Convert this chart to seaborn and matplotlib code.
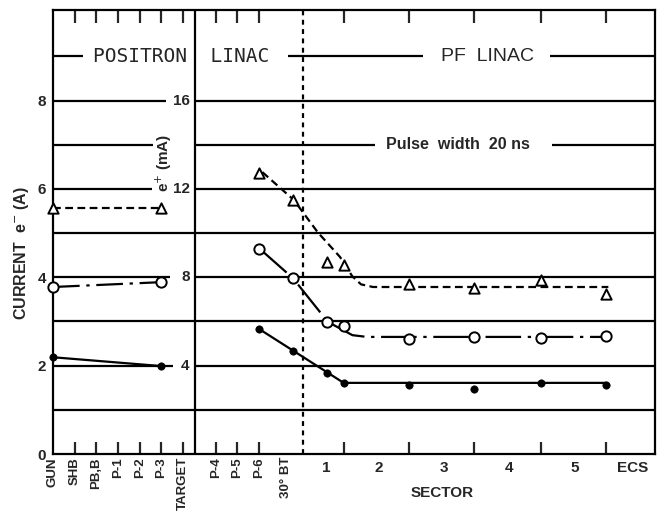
'''
Beam current along the linac: positron linac (left) and PF linac (right).
Values read off a scanned figure.
'''

import numpy as np
import pandas as pd
import seaborn as sns
import matplotlib.pyplot as plt
from matplotlib.transforms import blended_transform_factory

# positions along the beam line (one unit = one left-hand slot)
left_ticks = [0, 1, 2, 3, 4, 5, 6]
left_labels = ['GUN', 'SHB', 'PB,B', 'P-1', 'P-2', 'P-3', 'TARGET']
right_ticks = [7.5, 8.5, 9.5]
right_labels = ['P-4', 'P-5', 'P-6']
bt_pos = 10.75
divider_x = 6.54
bt_line_x = 11.52
sector_ends = [13.4, 16.4, 19.4, 22.5, 25.5]
sector_label_pos = [12.6, 15.0, 18.0, 21.0, 24.05, 26.7]
sector_labels = ['1', '2', '3', '4', '5', 'ECS']
x_end = 27.75

# e+ scale labels (twice the e- scale)
ep_ticks = [8, 6, 4, 2]
ep_labels = ['16', '12', '8', '4']

# measured points, positron linac
x_left = [0, 5]
tri_left = [5.57, 5.57]
circ_left = [3.78, 3.89]
dot_left = [2.19, 1.99]

# measured points, PF linac
x_right = [9.5, 11.05, 12.65, 13.4, 16.4, 19.4, 22.5, 25.5]
tri_right = [6.36, 5.75, 4.34, 4.28, 3.85, 3.76, 3.94, 3.62]
circ_right = [4.64, 3.98, 2.99, 2.90, 2.60, 2.65, 2.62, 2.67]
dot_right = [2.83, 2.33, 1.83, 1.61, 1.56, 1.47, 1.61, 1.56]

# hand drawn guide curves, PF linac
tri_fit_x = [9.65, 11.1, 12.2, 13.23, 13.8, 14.2, 14.75, 25.6]
tri_fit_y = [6.38, 5.75, 5.02, 4.46, 4.02, 3.84, 3.78, 3.78]
circ_fit_x = [9.54, 11.06, 12.67, 13.2, 13.8, 14.47, 25.5]
circ_fit_y = [4.64, 3.98, 2.99, 2.85, 2.69, 2.65, 2.65]
dot_fit_x = [9.5, 13.4, 25.5]
dot_fit_y = [2.83, 1.61, 1.61]

# grid segments (y, [(x0, x1), ...]), broken where text sits
grid_segments = {
    9: [(0, 1.38), (10.83, 17.05), (22.9, x_end)],
    8: [(0, 5.2), (divider_x, x_end)],
    7: [(0, 4.6), (divider_x, 14.84), (23.0, x_end)],
    6: [(0, 4.56), (divider_x, x_end)],
    5: [(0, x_end)],
    4: [(0, 5.39), (divider_x, x_end)],
    3: [(0, x_end)],
    2: [(0, 5.53), (divider_x, x_end)],
    1: [(0, x_end)],
}

## plot setup
sns.set_theme(style='white')
plt.rcParams['font.family'] = ['Liberation Sans', 'DejaVu Sans']
text_dct = {'label': 11.5, 'tick': 11, 'xtick': 9.5, 'title': 14}
lw = 1.6

fig = plt.figure(figsize=(6.59, 5.12), dpi=100)
ax = fig.add_axes([53 / 659, 1 - 454 / 512, 602 / 659, 444 / 512])
ax.set_xlim(0, x_end)
ax.set_ylim(0, 10.05)

# grid
for y, segs in grid_segments.items():
    for x0, x1 in segs:
        ax.hlines(y, x0, x1, color='black', lw=lw, zorder=1)

ax.axvline(divider_x, color='black', lw=lw, zorder=1)
ax.axvline(bt_line_x, color='black', lw=1.6, linestyle=(0, (2.2, 2.0)), zorder=1)

# lines
line_kw = dict(ax=ax, color='black', lw=lw, sort=False, estimator=None, legend=False)
sns.lineplot(x=x_left, y=tri_left, linestyle=(0, (3.5, 2)), **line_kw)
sns.lineplot(x=x_left, y=circ_left, linestyle=(0, (12, 3, 1.5, 3)), **line_kw)
sns.lineplot(x=x_left, y=dot_left, **line_kw)
sns.lineplot(x=tri_fit_x, y=tri_fit_y, linestyle=(0, (3.5, 2)), **line_kw)
sns.lineplot(x=circ_fit_x, y=circ_fit_y, linestyle=(0, (16, 3, 1.5, 3)), **line_kw)
sns.lineplot(x=dot_fit_x, y=dot_fit_y, **line_kw)

# markers
d_pts = pd.DataFrame({
    'x': x_left + x_right,
    'tri': tri_left + tri_right,
    'circ': circ_left + circ_right,
    'dot': dot_left + dot_right,
})
sns.scatterplot(data=d_pts, x='x', y='tri', marker='^', s=55, color='white',
                edgecolor='black', linewidth=1.4, zorder=5, ax=ax, clip_on=False)
sns.scatterplot(data=d_pts, x='x', y='circ', marker='o', s=55, color='white',
                edgecolor='black', linewidth=1.4, zorder=5, ax=ax, clip_on=False)
sns.scatterplot(data=d_pts, x='x', y='dot', marker='o', s=28, color='black',
                edgecolor='black', linewidth=0.5, zorder=5, ax=ax, clip_on=False)

# axes styling
for side in ['left', 'bottom', 'top', 'right']:
    ax.spines[side].set_color('black')
    ax.spines[side].set_linewidth(lw)

ax.set_yticks([0, 2, 4, 6, 8])
ax.set_yticklabels(['0', '2', '4', '6', '8'], fontsize=text_dct['tick'], fontweight='bold')
ax.tick_params(axis='y', direction='out', length=3, width=lw, pad=2)

bottom_pos = left_ticks[1:] + right_ticks + sector_ends
ax.set_xticks(bottom_pos)
ax.set_xticklabels([''] * len(bottom_pos))
ax.tick_params(axis='x', direction='in', length=9, width=lw, top=True, bottom=True)
ax.set_xlabel('')
ax.set_ylabel('')

trans = blended_transform_factory(ax.transData, ax.transAxes)
for pos, lab in zip(left_ticks + right_ticks, left_labels + right_labels):
    ax.text(pos, -0.007, lab, transform=trans, rotation=90, ha='center', va='top',
            fontsize=text_dct['xtick'], fontweight='bold')
ax.text(bt_pos, -0.007, '30° BT', transform=trans, rotation=90, ha='center', va='top',
        fontsize=text_dct['xtick'], fontweight='bold')
for pos, lab in zip(sector_label_pos, sector_labels):
    ax.text(pos, -0.032, lab, transform=trans, ha='center', va='center',
            fontsize=text_dct['tick'], fontweight='bold')
ax.text(17.95, -0.088, 'SECTOR', transform=trans, ha='center', va='center',
        fontsize=text_dct['tick'], fontweight='bold')

# e+ scale
for y, lab in zip(ep_ticks, ep_labels):
    ax.text(6.3, y, lab, ha='right', va='center', fontsize=text_dct['tick'],
            fontweight='bold')
ax.text(5.1, 6.6, 'e$^{+}$ (mA)', rotation=90, ha='center', va='center',
        fontsize=text_dct['tick'], fontweight='bold')

# axis title
ax.text(-0.052, 0.453, 'CURRENT  e$^{-}$ (A)', transform=ax.transAxes, rotation=90,
        ha='center', va='center', fontsize=text_dct['label'], fontweight='bold')

# section titles
ax.text(5.9, 9, 'POSITRON  LINAC', ha='center', va='center',
        fontsize=text_dct['title'], family='DejaVu Sans Mono')
ax.text(20.05, 9, 'PF  LINAC', ha='center', va='center', fontsize=text_dct['title'])
ax.text(18.66, 7, 'Pulse  width  20 ns', ha='center', va='center',
        fontsize=text_dct['label'], fontweight='bold')

plt.savefig('out.png', dpi=100)
